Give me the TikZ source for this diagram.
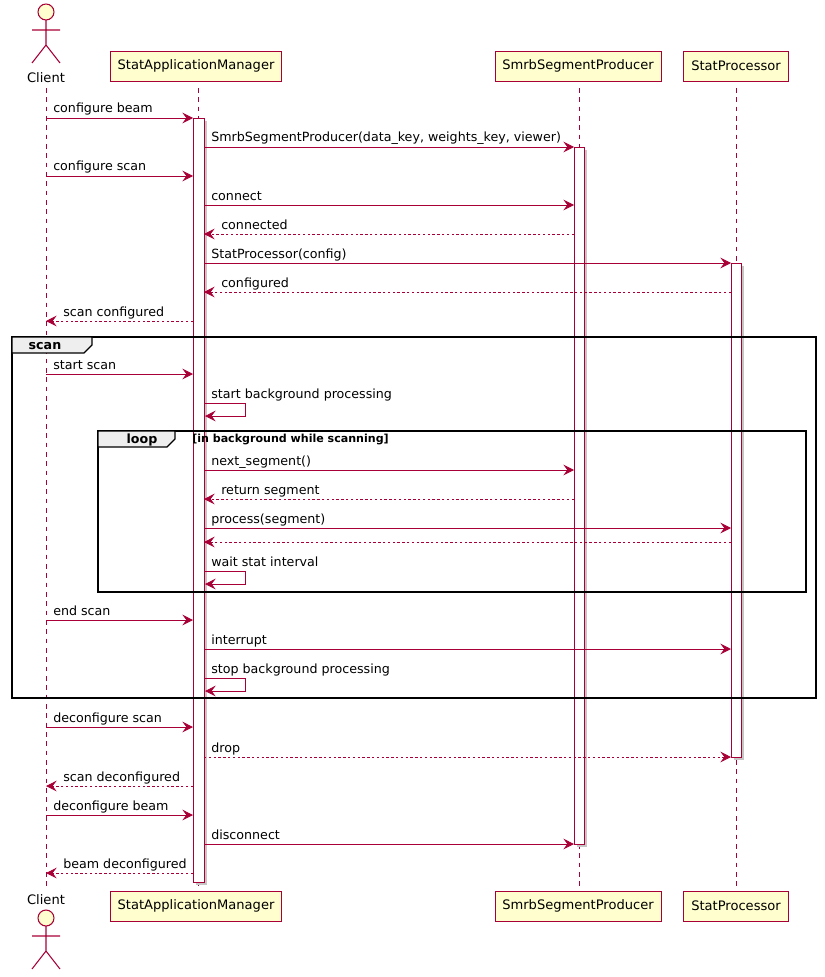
\documentclass[tikz,border=0pt]{standalone}
\usepackage{fontspec}
\setmainfont{DejaVu Sans}
\usetikzlibrary{arrows.meta}
\definecolor{pu}{HTML}{A80036}
\definecolor{bx}{HTML}{FEFECE}
\definecolor{gl}{HTML}{EEEEEE}
\tikzset{
  part/.style={draw=pu,fill=bx,line width=0.7pt,minimum height=22.5pt,inner xsep=5.5pt,font=\fontsize{9.8}{11}\selectfont,anchor=center},
  life/.style={draw=pu,dash pattern=on 3.5pt off 3.5pt,line width=0.6pt},
  act/.style={draw=pu,fill=white,line width=0.6pt},
  msg/.style={draw=pu,line width=0.6pt,-{Stealth[length=8pt,width=8pt,inset=3pt]}},
  ret/.style={msg,dash pattern=on 1.8pt off 1.8pt},
  lbl/.style={font=\fontsize{9.5}{11}\selectfont,anchor=base west,inner sep=0pt},
  frm/.style={draw=black,line width=1.2pt},
}
\begin{document}
\begin{tikzpicture}[x=0.75pt,y=-0.75pt]
\useasboundingbox (0,0) rectangle (824,977);
% lifelines
\foreach \x in {46,198,579,736}{\draw[life] (\x,88) -- (\x,890);}
% headers
\node[part] (samT) at (196,66) {StatApplicationManager};
\node[part] (sspT) at (578,66) {SmrbSegmentProducer};
\node[part] (spT) at (736,66) {StatProcessor};
\node[part] (samB) at (196,906) {StatApplicationManager};
\node[part] (sspB) at (578,906) {SmrbSegmentProducer};
\node[part] (spB) at (736,906) {StatProcessor};
% actors
\newcommand{\actorfig}[1]{%
  \draw[pu,fill=bx,line width=0.8pt] (46,#1) circle (6pt);
  \draw[pu,line width=0.8pt] (46,#1+8) -- (46,#1+33) (32,#1+18) -- (60,#1+18) (32,#1+51) -- (46,#1+33) -- (60,#1+51);}
\actorfig{12}
\node[lbl,anchor=base] (cT) at (46,83) {\fontsize{9.8}{11}\selectfont Client};
\node[lbl,anchor=base] (cB) at (46,904) {\fontsize{9.8}{11}\selectfont Client};
\actorfig{918}
% activations
\fill[gray!45] (196,121) rectangle (207,885);
\draw[act] (193,118) rectangle (204,882);
\fill[gray!45] (577,150) rectangle (587,847);
\draw[act] (574,147) rectangle (584,844);
\fill[gray!45] (734,266) rectangle (744,760);
\draw[act] (731,263) rectangle (741,757);
% frames
\draw[frm] (12,337) rectangle (816,698);
\draw[frm,fill=gl,line width=0.9pt] (12,337) -- (92,337) -- (92,345) -- (84,353) -- (12,353) -- cycle;
\node[lbl,anchor=base,font=\bfseries\fontsize{9.5}{11}\selectfont] (scanL) at (45,349) {scan};
\draw[frm] (98,431) rectangle (806,592);
\draw[frm,fill=gl,line width=0.9pt] (98,431) -- (175,431) -- (175,439) -- (167,447) -- (98,447) -- cycle;
\node[lbl,anchor=base,font=\bfseries\fontsize{9.5}{11}\selectfont] (loopL) at (142,443) {loop};
\node[lbl,font=\bfseries\fontsize{8.3}{9}\selectfont] (guard) at (192,442) {[in background while scanning]};
% messages
\newcommand{\MsgR}[4]{\draw[msg] (#1,#2) -- (#3,#2); \node[lbl] at (#1+7,#2-5) {#4};}
\newcommand{\MsgD}[4]{\draw[ret] (#1,#2) -- (#3,#2); \node[lbl] at (#3+17,#2-5) {#4};}
\newcommand{\MsgS}[2]{\draw[msg] (204,#1) -- (245,#1) -- (245,#1+13) -- (205,#1+13); \node[lbl] at (211,#1-5) {#2};}
\MsgR{46}{118}{193}{configure beam}
\MsgR{204}{147}{574}{SmrbSegmentProducer(data\_key, weights\_key, viewer)}
\MsgR{46}{176}{193}{configure scan}
\MsgR{204}{205}{574}{connect}
\MsgD{574}{234}{204}{connected}
\MsgR{204}{263}{731}{StatProcessor(config)}
\MsgD{731}{292}{204}{configured}
\MsgD{193}{321}{46}{scan configured}
\MsgR{46}{374}{193}{start scan}
\MsgS{403}{start background processing}
\MsgR{204}{470}{574}{next\_segment()}
\MsgD{574}{499}{204}{return segment}
\MsgR{204}{528}{731}{process(segment)}
\draw[ret] (731,542) -- (204,542);
\MsgS{571}{wait stat interval}
\MsgR{46}{620}{193}{end scan}
\MsgR{204}{649}{731}{interrupt}
\MsgS{678}{stop background processing}
\MsgR{46}{727}{193}{deconfigure scan}
\draw[ret] (204,757) -- (731,757); \node[lbl] at (211,752) {drop};
\MsgD{193}{786}{46}{scan deconfigured}
\MsgR{46}{815}{193}{deconfigure beam}
\MsgR{204}{844}{574}{disconnect}
\MsgD{193}{873}{46}{beam deconfigured}
\end{tikzpicture}
\end{document}
